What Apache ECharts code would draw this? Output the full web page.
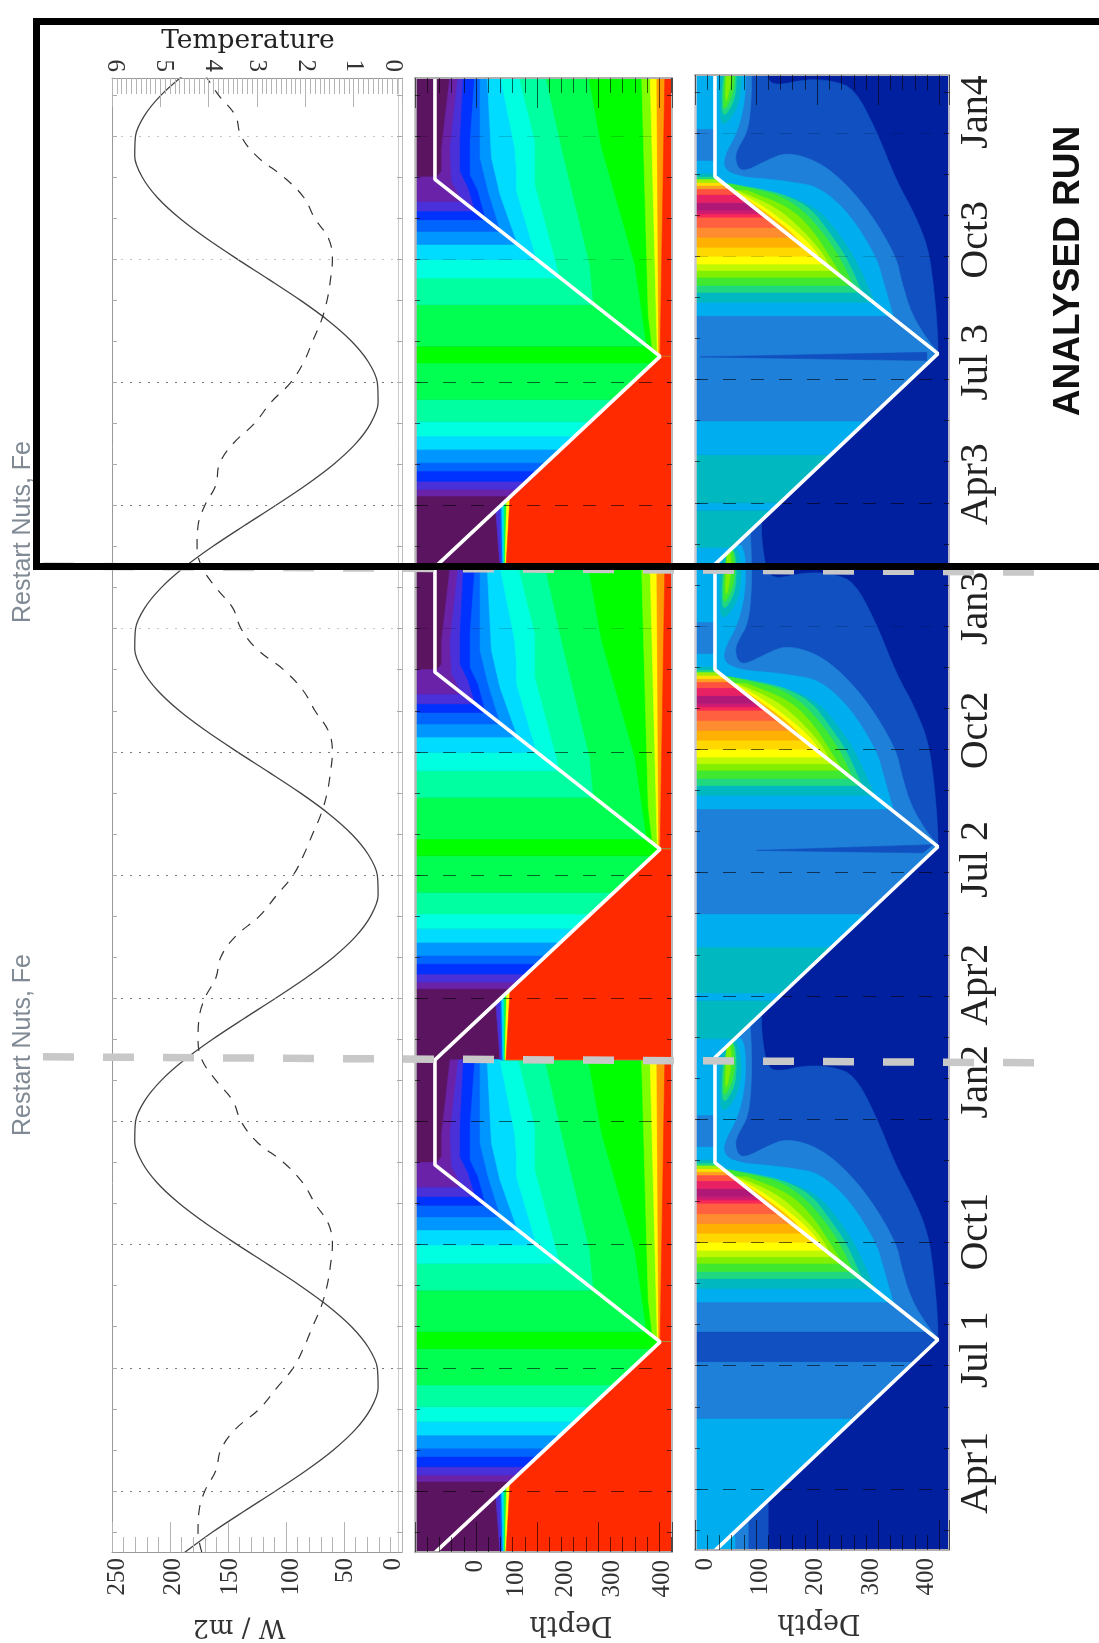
<!DOCTYPE html>
<html><head><meta charset="utf-8">
<style>html,body{margin:0;padding:0;background:#fff}#c{width:1099px;height:1643px}</style>
<script src="https://cdn.jsdelivr.net/npm/echarts@6/dist/echarts.min.js"></script>
</head><body><div id="c"></div>
<script>
// ---------- line panel ----------
const fluxWm2 = [187.5,163.3,136.5,109,82.6,59.1,40.1,27,20.6,21.3,29.1,43.5,63.5,87.7,114.5,142,168.4,191.9,210.9,224,230.4,229.7,221.9,207.5,
                 187.5,163.3,136.5,109,82.6,59.1,40.1,27,20.6,21.3,29.1,43.5,63.5,87.7,114.5,142,168.4,191.9,210.9,224,230.4,229.7,221.9,207.5,
                 187.5,163.3,136.5,109,82.6,59.1,40.1,27,20.6,21.3,29.1,43.5,63.5,87.7,114.5,142,168.4,191.9,210.9,224,230.4,229.7,221.9,207.5,187.5];
const temperature = [4.14,4.22,4.2,4.08,3.85,3.75,3.45,2.95,2.6,2.25,2.03,1.85,1.67,1.55,1.48,1.44,1.52,1.8,2.05,2.45,3.0,3.33,3.5,3.85,
                     4.14,4.22,4.2,4.08,3.85,3.75,3.45,2.95,2.6,2.25,2.03,1.85,1.67,1.55,1.48,1.44,1.52,1.8,2.05,2.45,3.0,3.33,3.5,3.85,
                     4.14,4.24,4.22,4.08,3.85,3.78,3.5,3.05,2.72,2.3,2.03,1.85,1.67,1.55,1.48,1.44,1.52,1.81,2.03,2.45,3.0,3.33,3.45,3.8,4.08];
const startMonth = 1.514, endMonth = 37.41;
const quarterMonths = [3,6,9,12,15,18,21,24,27,30,33,36];
const faintQuarters = [24,33,36];
const timeLabels = ['Apr1','Jul 1','Oct1','Jan2','Apr2','Jul 2','Oct2','Jan3','Apr3','Jul 3','Oct3','Jan4'];
const timeLabelPos = [3.39,6.39,9.26,12.91,15.27,18.32,21.46,24.43,27.45,30.42,33.4,36.51];
const monthTicks = [2,3,4,5,6,7,8,9,10,11,12,13,14,15,16,17,18,19,20,21,22,23,24,25,26,27,28,29,30,31,32,33,34,35,36,37];
const fluxLabelPos = [7.7,49,95.7,148,197,245], fluxLabels = ['0','50','100','150','200','250'];
const tempLabelPos = [0.19,1,2,3,3.92,4.94,5.94], tempLabels = ['0','1','2','3','4','5','6'];
// ---------- mixed layer depth (white line) ----------
const mldMonths = [1.5,6.63,10.94,13.5,18.63,22.94,25.5,30.63,34.94,37.5];
const mldDepthA = [-78,396,-78,-78,396,-78,-78,396,-78,-78];
const mldDepthB = [18,420,18,18,420,18,18,420,18,18];
const cycleOffsets = [0,12,24];
// ---------- panel A : bands above the mixed layer ----------
const depthLabels = ['0','100','200','300','400'];
const depthAPos = [6.3,92.6,195.8,294.7,400];
const aEdges = [1.5,3.23,3.39,3.59,3.84,4.04,4.36,4.69,5.05,5.58,6.47,6.88,7.89,8.54,8.99,9.36,9.68,9.96,10.17,10.41,11.02,13.5];
const aBandCol = ['#5a1460','#6a22a8','#4a30d8','#0032ff','#0064ff','#0096ff','#00dcff','#00ffe0','#00ffa0','#00ff50','#00ff00','#00ff50','#00ffa0','#00ffe0','#00dcff','#0096ff','#0064ff','#0032ff','#4a30d8','#6a22a8','#5a1460'];
// panel A : contours kept below the mixed layer as it shoals
const aC1 = [[10.94,-78],[11.14,-64],[11.71,-64],[13.5,-46]];
const aC2 = [[10.41,-20],[10.9,-43],[11.71,-46],[13.5,-29]];
const aC3 = [[10.17,7],[10.74,-8],[11.14,-25],[11.87,-25],[13.5,-18]];
const aC4 = [[9.96,29],[10.65,13],[11.06,-4],[11.87,-4],[13.5,6]];
const aC5 = [[9.68,60],[10.65,34],[11.47,17],[13.5,17]];
const aC6 = [[9.36,96],[10.57,59],[11.47,41],[13.5,32]];
const aC7 = [[8.99,136],[10.65,94],[11.14,94],[11.71,90],[13.5,59]];
const aC8 = [[8.54,185],[8.87,178],[10.82,133],[11.87,133],[13.5,98]];
const aC9 = [[7.89,256],[8.87,248],[11.55,192],[13.5,154]];
const aC10 = [[6.88,368],[8.87,343],[11.71,273],[13.5,245]];
const aC11 = [[6.75,380],[7.65,371],[13.5,357]];
const aC12 = [[6.7,390],[13.5,375]];
const aC13 = [[6.65,393],[13.5,389]];
const aC14 = [[6.63,396],[13.5,406]];
const aContours = [aC1,aC2,aC3,aC4,aC5,aC6,aC7,aC8,aC9,aC10,aC11,aC12,aC13,aC14];
const aContourCol = ['#6a22a8','#4a30d8','#0032ff','#0064ff','#0096ff','#00dcff','#00ffe0','#00ffa0','#00ff50','#00ff00','#7fff00','#ffff00','#ff9a00','#ff2a00'];
// panel A : sharp front below the mixed layer before it deepens
const aFront = [[59,2.89,50],[62.4,2.98,59],[65,3.02,62.4],[67.4,3.07,67.4],[69.5,3.13,73],[71.6,3.21,80]];
const aFrontCol = ['#4a30d8','#0064ff','#00dcff','#00ff50','#ffff00','#ff2a00'];
// ---------- panel B : bands above the mixed layer ----------
const NAVY='#0020a0',C50='#1050c0',C80='#1e80d8',CAE='#00aef0',TEAL='#00b8c0',G1='#20d880',G2='#40e830',G3='#80f000',G4='#c0f800',Y='#ffff00';
const bEdgesY1 = [1.5,4.72,6.10,6.83,7.55];
const bColY1 = [CAE,C80,C50,C80];
const bEdgesY2 = [1.5,1.96,2.89,3.07,4.19,5.0,7.55];
const bEdgesY3 = [1.5,1.91,2.82,3.0,4.17,4.99,7.55];
const bColY23 = [CAE,TEAL,CAE,TEAL,CAE,C80];
const bEdgesFall = [7.55,7.88,8.12,8.29,8.49,8.65,8.81,9.0,9.22,9.46,9.7,9.95,10.03,10.11,10.31,10.5,10.64,10.72,10.8,10.88,10.94,11.02,11.33,12.1,13.5];
const bColFall = [CAE,TEAL,G1,G2,G3,G4,Y,'#ffd800','#ffb000','#ff8c30','#ff6040','#f82858','#d01c70','#b01878','#e82064','#ff5040','#ffa020','#ffe000','#a0f000',G1,TEAL,CAE,C80,CAE];
const bThinY2 = [[18.54,93],[18.68,411],[18.48,393]];
const bThinY3 = [[30.55,-9],[30.66,400],[30.46,400]];
// panel B : contours below the mixed layer
const bA = [[6.67,420],[6.95,420],[7.6,417],[8.41,411],[9.22,402],[10.03,378],[10.84,345],[12.06,309],[13.07,270],[13.27,231],[13.31,183],[13.15,129],[13.31,111],[14.09,102],[14.6,102]];
const bB = [[6.67,420],[6.95,402],[7.6,372],[8.41,354],[8.98,345],[10.03,300],[10.84,249],[11.33,201],[11.53,147],[11.33,111],[11.08,75],[11.12,60],[11.41,54],[11.65,60],[12.06,78],[12.87,84],[13.68,84],[14.41,81]];
const bC = [[7.56,339],[8.41,321],[8.98,309],[10.03,261],[10.68,207],[10.8,159],[10.88,111],[10.92,69],[11.08,36],[11.41,33],[12.06,60],[12.87,73],[13.68,73],[13.96,66]];
const bD = [[7.88,306],[8.98,270],[9.62,237],[10.11,207],[10.44,159],[10.6,105],[10.76,45]];
const bE = [[8.12,283],[8.98,255],[9.62,222],[10.15,192],[10.48,147],[10.64,99],[10.76,45]];
const bF = [[8.29,267],[8.98,243],[9.62,210],[10.11,177],[10.48,135],[10.64,87],[10.76,45]];
const bG = [[8.49,248],[8.98,225],[9.62,195],[10.19,153],[10.6,75]];
const bH = [[8.65,228],[9.06,213],[9.62,177],[10.19,129],[10.6,57]];
const bI = [[8.81,214],[9.22,195],[9.70,156],[10.27,99],[10.6,51]];
const bJ = [[9.22,180],[9.62,153],[10.11,105],[10.6,51]];
const bK = [[9.46,156],[9.95,117],[10.6,48]];
const bShapes = [bA,bB,bC,bD,bE,bF,bG,bH,bI,bJ,bK];
const bShapeCol = [C50,C80,CAE,TEAL,G1,G2,G3,G4,Y,'#ffc000','#ff8c30'];
// panel B : subsurface blob, closed contours
const bBlob1 = [[12.1,30],[12.54,57],[13.11,66],[13.68,63],[13.96,54],[13.96,40],[13.4,27],[12.7,26]];
const bBlob2 = [[12.34,33],[12.79,54],[13.35,57],[13.8,54],[13.9,45],[13.4,33],[12.8,30]];
const bBlob3 = [[12.5,34],[12.95,51],[13.44,54],[13.88,51],[13.88,42],[13.4,36],[12.9,33]];
const bBlob4 = [[12.71,38],[13.11,45],[13.52,48],[13.84,45],[13.84,40],[13.4,38],[13.0,37]];
const bBlobs = [bBlob1,bBlob2,bBlob3,bBlob4], bBlobCol = [TEAL,G1,G2,G3];
const bTail = [[114,2.65,C50],[78,2.24,C80],[54,1.84,CAE]];

const restartMonths = [13.5,25.45];
const restartLabelY = [1045,532];

// ---------- geometry helpers (polygons in data units [month, depth]; the axes place them) ----------
const A = {dmin:-120,dmax:421}, B = {dmin:-18,dmax:440};
function mlAt(t,dep){
  for(let i=0;i<mldMonths.length-1;i++){
    if(t>=mldMonths[i]&&t<=mldMonths[i+1]){
      const f=(t-mldMonths[i])/(mldMonths[i+1]-mldMonths[i]);
      return dep[i]+f*(dep[i+1]-dep[i]);
    }
  }
  return dep[dep.length-1];
}
function band(t0,t1,dep,dmin){
  const pts=[[t0,dmin],[t1,dmin],[t1,mlAt(t1,dep)]];
  for(let i=mldMonths.length-1;i>=0;i--){ if(mldMonths[i]<t1&&mldMonths[i]>t0) pts.push([mldMonths[i],dep[i]]); }
  pts.push([t0,mlAt(t0,dep)]);
  return pts;
}
// rounds the corners of a contour, as the reference's contours are rounded
function round(pts,closed,n){
  let p=pts;
  for(let k=0;k<n;k++){
    const q=[]; if(!closed) q.push(p[0]);
    const m=closed?p.length:p.length-1;
    for(let i=0;i<m;i++){
      const a=p[i],b=p[(i+1)%p.length];
      q.push([a[0]*.75+b[0]*.25,a[1]*.75+b[1]*.25]);
      q.push([a[0]*.25+b[0]*.75,a[1]*.25+b[1]*.75]);
    }
    if(!closed) q.push(p[p.length-1]);
    p=q;
  }
  return p;
}
const shift=(pts,o)=>pts.map(p=>[p[0]+o,p[1]]);
const polysA=[{c:'#5a1460',p:[[1.5,A.dmin],[38,A.dmin],[38,A.dmax],[1.5,A.dmax]]}];
cycleOffsets.forEach(o=>{
  aContours.forEach((c,i)=>polysA.push({c:aContourCol[i],p:shift(c.concat([[13.5,A.dmax],[6.63,A.dmax],[6.63,396]]),o)}));
  aFront.forEach((f,i)=>polysA.push({c:aFrontCol[i],p:shift([[1.5,f[0]],[f[1],f[2]],[6.63,396],[6.63,A.dmax],[1.5,A.dmax]],o)}));
  aBandCol.forEach((c,i)=>polysA.push({c,p:band(aEdges[i]+o,aEdges[i+1]+o,mldDepthA,A.dmin)}));
});
const polysB=[{c:NAVY,p:[[1.5,B.dmin],[38,B.dmin],[38,B.dmax],[1.5,B.dmax]]}];
bTail.forEach(t=>polysB.push({c:t[2],p:[[1.5,t[0]],[t[1],t[0]],[t[1],B.dmin],[1.5,B.dmin]]}));
cycleOffsets.forEach(o=>{
  bShapes.forEach((s,i)=>{
    const r=round(s,false,2), last=r[r.length-1], first=r[0];
    polysB.push({c:bShapeCol[i],p:shift(r.concat([[last[0],B.dmin],[first[0],B.dmin]]),o)});
  });
  bBlobs.forEach((s,i)=>polysB.push({c:bBlobCol[i],p:shift(round(s,true,2),o)}));
});
const bandB=(edges,cols,o)=>cols.forEach((c,i)=>polysB.push({c,p:band(edges[i]+o,edges[i+1]+o,mldDepthB,B.dmin)}));
bandB(bEdgesY1,bColY1,0); bandB(bEdgesFall,bColFall,0);
bandB(bEdgesY2,bColY23,12); bandB(bEdgesFall,bColFall,12);
bandB(bEdgesY3,bColY23,24); bandB(bEdgesFall,bColFall,24);
polysB.push({c:C50,p:bThinY2}); polysB.push({c:C50,p:bThinY3});

const SERIF='"Liberation Serif",serif';
const tickDark='rgba(0,0,0,0.6)', tickGrey='#b4b4b4';
function field(name,polys,xi,yi){
  return {type:'custom',name,coordinateSystem:'cartesian2d',xAxisIndex:xi,yAxisIndex:yi,clip:true,silent:true,animation:false,progressive:0,
    data:polys.map((p,i)=>[i,i]),
    renderItem:(params,api)=>{const q=polys[params.dataIndex];
      return {type:'polygon',shape:{points:q.p.map(c=>api.coord([c[1],c[0]]))},style:{fill:q.c,stroke:q.c,lineWidth:0.6}};}};
}
function qLines(dark,faint,type,w){
  return {silent:true,symbol:'none',animation:false,label:{show:false},
    data:quarterMonths.map(m=>({yAxis:m,lineStyle:{color:faintQuarters.includes(m)?faint:dark,type,width:w}}))};
}
function white(xi,yi,dep){
  return {type:'line',name:'Mixed layer depth',xAxisIndex:xi,yAxisIndex:yi,symbol:'none',silent:true,animation:false,z:5,clip:true,
    lineStyle:{color:'#fff',width:3.6},data:mldMonths.map((m,i)=>[dep[i],m]),
    markLine:qLines('rgba(0,0,0,0.6)','rgba(0,0,0,0.16)',[13,15],1)};
}
function yAx(grid,pos,col,extra){
  return Object.assign({type:'value',gridIndex:grid,position:pos,min:startMonth,max:endMonth,z:10,splitLine:{show:false},
    axisLine:{show:true,onZero:false,lineStyle:{color:col[0],width:col[1]}},
    axisTick:{show:true,inside:true,length:5,customValues:monthTicks,lineStyle:{color:col[2],width:1}},
    axisLabel:{show:false}},extra||{});
}
function tickAx(grid,pos,max,col,lineCol,lineW){
  return {type:'value',gridIndex:grid,position:pos,min:-100,max,interval:100,z:10,splitLine:{show:false},
    axisLine:{show:true,onZero:false,lineStyle:{color:lineCol,width:lineW}},axisLabel:{show:false},
    axisTick:{show:true,inside:true,length:30,lineStyle:{color:col,width:1}},
    minorTick:{show:true,splitNumber:5,length:15,lineStyle:{color:col,width:1}}};
}
const labelStyle={color:'#333',fontFamily:SERIF,fontSize:25,rotate:90};
const option={
  backgroundColor:'#fff',animation:false,
  grid:[
    {left:112,top:78,width:290,height:1474},
    {left:415,top:78,width:257,height:1474},
    {left:695,top:75,width:254,height:1475}],
  xAxis:[
    {type:'value',gridIndex:0,position:'bottom',min:0,max:250,inverse:true,interval:50,z:10,splitLine:{show:false},
     axisLine:{show:true,onZero:false,lineStyle:{color:'#999',width:1}},
     axisTick:{show:true,inside:true,length:30,lineStyle:{color:tickGrey}},
     minorTick:{show:true,splitNumber:5,length:15,lineStyle:{color:tickGrey}},
     axisLabel:Object.assign({},labelStyle,{margin:6,customValues:fluxLabelPos,formatter:v=>fluxLabels[fluxLabelPos.indexOf(v)]})},
    {type:'value',gridIndex:0,position:'top',min:0,max:6,inverse:true,interval:1,z:10,splitLine:{show:false},
     axisLine:{show:true,onZero:false,lineStyle:{color:'#999',width:1}},
     axisTick:{show:true,inside:true,length:29,lineStyle:{color:tickGrey}},
     minorTick:{show:true,splitNumber:10,length:16,lineStyle:{color:tickGrey}},
     axisLabel:Object.assign({},labelStyle,{margin:6,customValues:tempLabelPos,formatter:v=>tempLabels[tempLabelPos.indexOf(v)]})},
    {type:'value',gridIndex:1,position:'bottom',min:A.dmin,max:A.dmax,z:10,splitLine:{show:false},axisLine:{show:false,onZero:false},axisTick:{show:false},
     axisLabel:Object.assign({},labelStyle,{margin:8,customValues:depthAPos,formatter:v=>depthLabels[depthAPos.indexOf(v)]})},
    tickAx(1,'bottom',321,tickDark,'#b0b0b0',2),
    tickAx(1,'top',321,tickDark,'#b0b0b0',2),
    {type:'value',gridIndex:2,position:'bottom',min:B.dmin,max:B.dmax,z:10,splitLine:{show:false},axisLine:{show:false,onZero:false},axisTick:{show:false},
     axisLabel:Object.assign({},labelStyle,{margin:8,customValues:[0,100,200,300,400]})},
    tickAx(2,'bottom',316,tickDark,'#b0b0b0',2),
    tickAx(2,'top',316,tickDark,'#b0b0b0',2)
  ],
  yAxis:[
    yAx(0,'left',['#999',1,'#aaa']),
    yAx(0,'right',['#bbb',1,'#aaa']),
    yAx(1,'left',['#b8b8b8',2.5,tickDark]),
    yAx(1,'right',['#b8b8b8',2,tickDark]),
    yAx(2,'left',['#c8c8d0',2.5,tickDark]),
    yAx(2,'right',['#b8b8c8',2,tickDark],{axisLabel:{show:true,rotate:90,margin:7,color:'#222',fontFamily:SERIF,fontSize:40,
      customValues:timeLabelPos,formatter:v=>timeLabels[timeLabelPos.indexOf(v)]}})
  ],
  series:[
    {type:'line',name:'W / m2',xAxisIndex:0,yAxisIndex:0,smooth:0.3,symbol:'none',silent:true,animation:false,clip:true,
     lineStyle:{color:'#444',width:1.3},data:fluxWm2.map((v,i)=>[v,1.5+0.5*i]),
     markLine:{silent:true,symbol:'none',animation:false,label:{show:false},
       data:quarterMonths.map(m=>({yAxis:m,lineStyle:{color:faintQuarters.includes(m)?'#c4c4c4':'#777',type:[2,7],width:1}})).concat([{xAxis:3.5,lineStyle:{color:'#ccc',type:'solid',width:1}}])}},
    {type:'line',name:'Temperature',xAxisIndex:1,yAxisIndex:0,smooth:0.4,symbol:'none',silent:true,animation:false,clip:true,
     lineStyle:{color:'#333',width:1.2,type:[10,9]},data:temperature.map((v,i)=>[v,1.5+0.5*i])},
    field('Nutrient field',polysA,2,2),
    white(2,2,mldDepthA),
    field('Chlorophyll field',polysB,5,4),
    white(5,4,mldDepthB)
  ]
};
const chart=echarts.init(document.getElementById('c'),null,{renderer:'canvas'});
chart.setOption(option);
const restartY=restartMonths.map(m=>chart.convertToPixel({yAxisIndex:0},m));
const gr=[];
restartY.forEach((y,i)=>{
  gr.push({type:'line',z:90,shape:{x1:43,y1:y-3,x2:1037,y2:y+3},style:{stroke:'#c8c8c8',lineWidth:7.5,lineDash:[31,29]}});
  gr.push({type:'text',z:91,x:23,y:restartLabelY[i],rotation:Math.PI/2,style:{text:'Restart Nuts, Fe',fill:'#808a94',font:'25px "Liberation Sans",sans-serif',align:'center',verticalAlign:'middle'}});
});
gr.push({type:'rect',z:95,shape:{x:36.5,y:21.5,width:1067,height:545},style:{fill:'none',stroke:'#000',lineWidth:7}});
gr.push({type:'text',z:96,x:248,y:41,style:{text:'Temperature',fill:'#222',font:'26.5px "DejaVu Serif",serif',align:'center',verticalAlign:'middle'}});
gr.push({type:'text',z:96,x:1069,y:271,rotation:Math.PI/2,style:{text:'ANALYSED RUN',fill:'#111',font:'bold 37px "Liberation Sans",sans-serif',align:'center',verticalAlign:'middle'}});
gr.push({type:'text',z:96,x:239,y:1627,rotation:Math.PI,style:{text:'W / m2',fill:'#333',font:'26px "DejaVu Serif",serif',align:'center',verticalAlign:'middle'}});
gr.push({type:'text',z:96,x:571,y:1624,rotation:Math.PI,style:{text:'Depth',fill:'#333',font:'27px "DejaVu Serif",serif',align:'center',verticalAlign:'middle'}});
gr.push({type:'text',z:96,x:819,y:1622,rotation:Math.PI,style:{text:'Depth',fill:'#333',font:'27px "DejaVu Serif",serif',align:'center',verticalAlign:'middle'}});
chart.setOption({graphic:gr});
</script></body></html>
